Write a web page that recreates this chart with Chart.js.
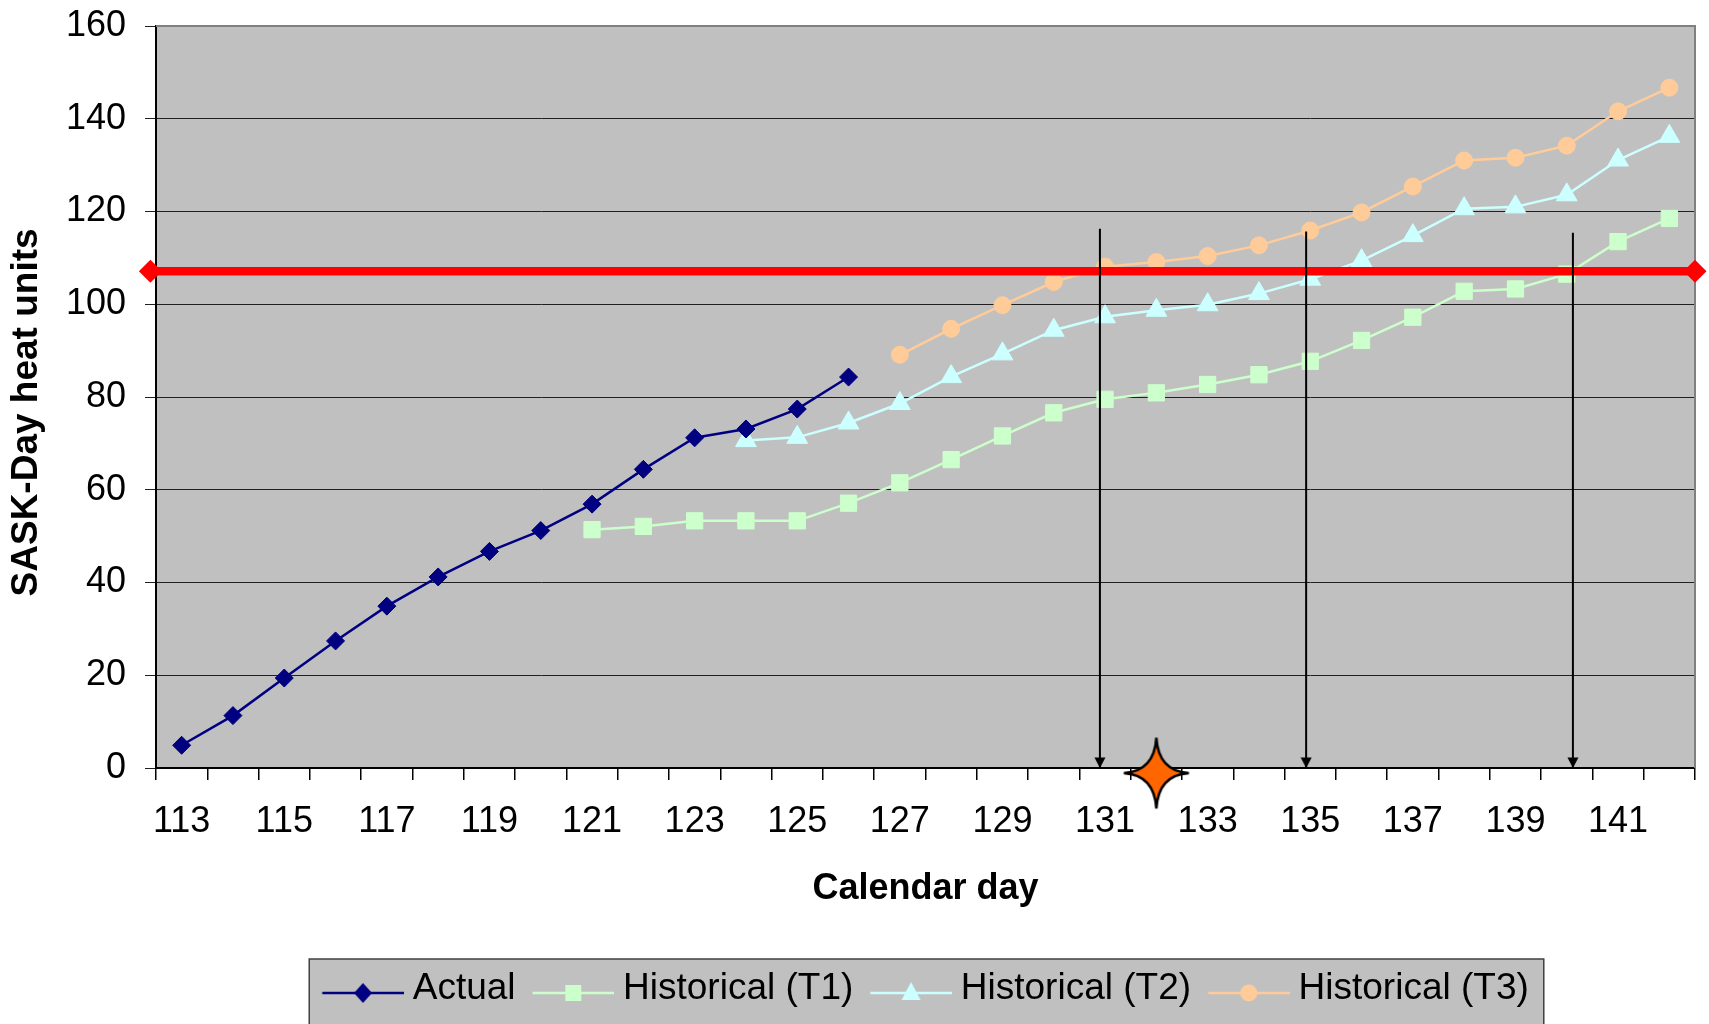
<!DOCTYPE html>
<html>
<head>
<meta charset="utf-8">
<script src="https://cdn.jsdelivr.net/npm/chart.js@4/dist/chart.umd.min.js"></script>
<style>
html,body{margin:0;padding:0;background:#ffffff;overflow:hidden}
#wrap{width:1709px;height:1024px;position:relative}
</style>
</head>
<body>
<div id="wrap"><canvas id="c" width="1709" height="1024"></canvas></div>
<script>
// ---------------- data ----------------
const days = [113,114,115,116,117,118,119,120,121,122,123,124,125,126,127,128,129,130,131,132,133,134,135,136,137,138,139,140,141,142];

const actualStart = 113;
const actual = [4.9, 11.3, 19.4, 27.4, 34.9, 41.2, 46.7, 51.2, 56.9, 64.4, 71.2, 73.1, 77.4, 84.3];

const t1Start = 121;
const t1 = [51.4, 52.1, 53.3, 53.3, 53.3, 57.1, 61.5, 66.5, 71.6, 76.6, 79.5, 80.9, 82.7, 84.8, 87.7, 92.2, 97.2, 102.8, 103.3, 106.5, 113.5, 118.5];

const t2Start = 124;
const t2 = [70.6, 71.3, 74.4, 78.6, 84.4, 89.3, 94.4, 97.3, 98.7, 99.9, 102.3, 105.4, 109.4, 114.8, 120.6, 121.0, 123.6, 131.1, 136.2];

const t3Start = 127;
const t3 = [89.1, 94.7, 99.8, 104.8, 108.1, 109.1, 110.4, 112.7, 115.9, 119.8, 125.4, 131.0, 131.6, 134.2, 141.6, 146.7];

const seriesNames = ['Actual', 'Historical (T1)', 'Historical (T2)', 'Historical (T3)'];

// threshold line (SASK-Day target)
const thresholdX = [112.39, 142.5];
const thresholdY = [107.1, 107.1];

// vertical arrows (day reaching threshold)
const arrowDays = [130.9, 134.92, 140.12];
const arrowTops = [116.3, 115.7, 115.4];

// star marker
const starDay = [132.0];
const starVal = [-1.1];

const yTicks = [0, 20, 40, 60, 80, 100, 120, 140, 160];

// ---------------- helpers ----------------
const pad = (start, vals) => days.map(d => {
  const i = d - start;
  return (i >= 0 && i < vals.length) ? vals[i] : null;
});

const NAVY = '#000080', GREEN = '#CCFFCC', CYAN = '#CCFFFF', PEACH = '#FFCC99';
const FONT = "'Liberation Sans', Arial, sans-serif";

function legendImg(color, kind) {
  const c = document.createElement('canvas');
  c.width = 91; c.height = 44;
  const g = c.getContext('2d');
  const cy = 26, cx = 50.25;
  g.strokeStyle = color; g.lineWidth = 2.5;
  g.beginPath(); g.moveTo(9.5, cy); g.lineTo(91, cy); g.stroke();
  g.fillStyle = color;
  g.beginPath();
  if (kind === 'diamond') {
    g.moveTo(cx, cy - 10); g.lineTo(cx + 9, cy); g.lineTo(cx, cy + 10); g.lineTo(cx - 9, cy);
  } else if (kind === 'square') {
    g.rect(cx - 8, cy - 8, 16, 16);
  } else if (kind === 'triangle') {
    g.moveTo(cx, cy - 11); g.lineTo(cx + 9.5, cy + 7); g.lineTo(cx - 9.5, cy + 7);
  } else {
    g.arc(cx, cy, 8.5, 0, Math.PI * 2);
  }
  g.closePath(); g.fill();
  return c;
}
const legendImgs = [
  legendImg(NAVY, 'diamond'),
  legendImg(GREEN, 'square'),
  legendImg(CYAN, 'triangle'),
  legendImg(PEACH, 'circle')
];

function starImg() {
  const c = document.createElement('canvas');
  c.width = 70; c.height = 78;
  const g = c.getContext('2d');
  const cx = 35, cy = 39;
  const tx = 32.5, ty = 35.5;
  g.beginPath();
  g.moveTo(cx, cy - ty);
  g.quadraticCurveTo(cx + 2, cy - 2, cx + tx, cy);
  g.quadraticCurveTo(cx + 2, cy + 2, cx, cy + ty);
  g.quadraticCurveTo(cx - 2, cy + 2, cx - tx, cy);
  g.quadraticCurveTo(cx - 2, cy - 2, cx, cy - ty);
  g.closePath();
  g.fillStyle = '#FF6600'; g.fill();
  g.lineWidth = 2.5; g.strokeStyle = '#000'; g.lineJoin = 'miter'; g.stroke();
  return c;
}

function arrowHeadImg() {
  const c = document.createElement('canvas');
  c.width = 12; c.height = 24;
  const g = c.getContext('2d');
  g.beginPath(); g.moveTo(0.5, 1.5); g.lineTo(11.5, 1.5); g.lineTo(6, 12); g.closePath();
  g.fillStyle = '#000'; g.fill();
  return c;
}
const arrowHead = arrowHeadImg();

// ---------------- datasets ----------------
const datasets = [
  {
    label: seriesNames[0], data: pad(actualStart, actual), order: 2,
    borderColor: NAVY, backgroundColor: NAVY, borderWidth: 2.5,
    pointStyle: 'rectRot', pointRadius: 9, pointBorderWidth: 1,
    pointBackgroundColor: NAVY, pointBorderColor: NAVY, spanGaps: false
  },
  {
    label: seriesNames[1], data: pad(t1Start, t1), order: 5,
    borderColor: GREEN, backgroundColor: GREEN, borderWidth: 2.5,
    pointStyle: 'rect', pointRadius: 11.5, pointBorderWidth: 1,
    pointBackgroundColor: GREEN, pointBorderColor: GREEN
  },
  {
    label: seriesNames[2], data: pad(t2Start, t2), order: 4,
    borderColor: CYAN, backgroundColor: CYAN, borderWidth: 2.5,
    pointStyle: 'triangle', pointRadius: 12, pointBorderWidth: 1,
    pointBackgroundColor: CYAN, pointBorderColor: CYAN
  },
  {
    label: seriesNames[3], data: pad(t3Start, t3), order: 3,
    borderColor: PEACH, backgroundColor: PEACH, borderWidth: 2.5,
    pointStyle: 'circle', pointRadius: 8.5, pointBorderWidth: 1,
    pointBackgroundColor: PEACH, pointBorderColor: PEACH
  },
  {
    label: 'threshold', xAxisID: 'xv', order: 1, clip: false,
    data: thresholdX.map((x, i) => ({x, y: thresholdY[i]})),
    borderColor: '#FF0000', backgroundColor: '#FF0000', borderWidth: 8.5,
    pointStyle: 'rectRot', pointRadius: 11.5, pointBorderWidth: 0,
    pointBackgroundColor: '#FF0000'
  }
];
arrowDays.forEach((d, i) => {
  datasets.push({
    label: 'arrow' + i, xAxisID: 'xv', order: 0, clip: false,
    data: [{x: d, y: arrowTops[i]}, {x: d, y: 0}],
    borderColor: '#000', borderWidth: 2,
    pointStyle: arrowHead, pointRadius: [0, 6], pointBorderWidth: 0
  });
});
datasets.push({
  label: 'star', xAxisID: 'xv', order: 0, clip: false, showLine: false,
  data: starDay.map((x, i) => ({x, y: starVal[i]})),
  pointStyle: starImg(), pointRadius: 36, pointBorderWidth: 0
});

// ---------------- plugins ----------------
const decor = {
  id: 'decor',
  beforeDraw(chart) {
    const {ctx, chartArea: a} = chart;
    ctx.save();
    ctx.fillStyle = '#C0C0C0';
    ctx.fillRect(a.left, a.top, a.right - a.left, a.bottom - a.top);
    const hb = chart.legend && chart.legend.legendHitBoxes;
    if (hb && hb.length) {
      const last = hb[hb.length - 1];
      const l = hb[0].left - 13, r = last.left + last.width + 15;
      const t = hb[0].top - 11.5;
      ctx.fillStyle = '#C0C0C0';
      ctx.fillRect(l, t, r - l, 1100 - t);
      ctx.strokeStyle = '#404040'; ctx.lineWidth = 1.5;
      ctx.strokeRect(l, t, r - l, 1100 - t);
    }
    ctx.restore();
  },
  beforeDatasetsDraw(chart) {
    const {ctx, chartArea: a} = chart;
    ctx.save();
    ctx.strokeStyle = '#808080'; ctx.lineWidth = 2;
    ctx.beginPath();
    ctx.moveTo(a.left, a.top); ctx.lineTo(a.right, a.top); ctx.lineTo(a.right, a.bottom);
    ctx.stroke();
    ctx.restore();
  }
};

// ---------------- chart ----------------
new Chart(document.getElementById('c'), {
  type: 'line',
  data: { labels: days.map(String), datasets },
  options: {
    responsive: false,
    animation: false,
    events: [],
    layout: { autoPadding: false, padding: { top: 26, right: 14, bottom: 6.5, left: 0 } },
    scales: {
      x: {
        type: 'category', offset: true,
        afterFit(s) { s.height = 185.5; s.paddingLeft = 0; s.paddingRight = 0; },
        grid: { display: true, drawOnChartArea: false, drawTicks: true, tickLength: 12, offset: true, color: '#000', lineWidth: 1.5 },
        border: { display: true, color: '#000', width: 2 },
        ticks: {
          autoSkip: false, maxRotation: 0, minRotation: 0, padding: 20,
          color: '#000', font: { family: FONT, size: 36 },
          callback: (v, i) => (days[i] % 2 === 1 ? String(days[i]) : '')
        },
        title: { display: true, text: 'Calendar day', color: '#000',
          font: { family: FONT, size: 36, weight: 'bold', lineHeight: 1.2 },
          padding: { top: 0, bottom: 43 } }
      },
      xv: {
        type: 'linear', display: false, min: 112.5, max: 142.5, offset: false,
        afterFit(s) { s.paddingLeft = 0; s.paddingRight = 0; s.paddingTop = 0; s.paddingBottom = 0; }
      },
      y: {
        min: yTicks[0], max: yTicks[yTicks.length - 1],
        afterFit(s) { s.width = 156; s.paddingTop = 0; s.paddingBottom = 0; },
        afterBuildTicks(s) { s.ticks = yTicks.map(v => ({value: v})); },
        grid: { color: '#202020', lineWidth: 1, tickLength: 11, drawTicks: true },
        border: { display: true, color: '#000', width: 2 },
        ticks: { padding: 19, color: '#000', font: { family: FONT, size: 36 } },
        title: { display: true, text: 'SASK-Day heat units   ', color: '#000',
          font: { family: FONT, size: 37, weight: 'bold', lineHeight: 1.2 },
          padding: { top: 5, bottom: 0 } }
      }
    },
    plugins: {
      tooltip: { enabled: false },
      legend: {
        display: true, position: 'bottom', fullSize: false,
        labels: {
          usePointStyle: true, pointStyleWidth: 72, padding: 17,
          color: '#000', font: { family: FONT, size: 37 },
          sort: (a, b) => a.datasetIndex - b.datasetIndex,
          generateLabels(chart) {
            const items = Chart.defaults.plugins.legend.labels.generateLabels(chart);
            return items.filter(it => it.datasetIndex < 4).map(it => Object.assign({}, it, {
              pointStyle: legendImgs[it.datasetIndex], rotation: 0, fontColor: '#000'
            }));
          }
        }
      }
    }
  },
  plugins: [decor]
});
</script>
</body>
</html>
